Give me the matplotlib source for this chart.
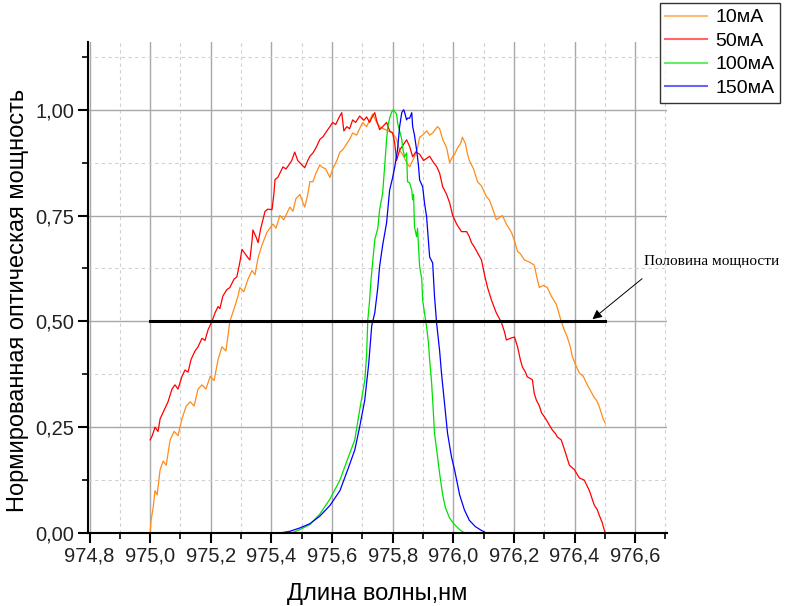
import matplotlib
matplotlib.use("Agg")
import matplotlib.pyplot as plt
from matplotlib.ticker import MultipleLocator, FuncFormatter

plt.rcParams['font.family'] = ['Liberation Sans', 'DejaVu Sans']

labels = ["10мА", "50мА", "100мА", "150мА"]
colors = ["#FF8C1A", "#FF0000", "#00E000", "#0000FF"]

wl_10 = [975.000, 975.003, 975.010, 975.016, 975.023, 975.033, 975.043, 975.053, 975.066, 975.079,
         975.092, 975.105, 975.119, 975.132, 975.145, 975.158, 975.171, 975.184, 975.198, 975.211,
         975.224, 975.237, 975.250, 975.263, 975.277, 975.290, 975.296, 975.309, 975.323, 975.336,
         975.346, 975.356, 975.369, 975.385, 975.395, 975.405, 975.415, 975.428, 975.441, 975.454,
         975.461, 975.471, 975.481, 975.494, 975.504, 975.510, 975.520, 975.527, 975.537, 975.547,
         975.560, 975.566, 975.579, 975.593, 975.602, 975.616, 975.626, 975.635, 975.649, 975.658,
         975.668, 975.681, 975.691, 975.701, 975.714, 975.724, 975.734, 975.747, 975.757, 975.770,
         975.784, 975.800, 975.813, 975.823, 975.836, 975.846, 975.856, 975.866, 975.872, 975.882,
         975.889, 975.899, 975.912, 975.922, 975.932, 975.942, 975.948, 975.955, 975.965, 975.978,
         975.988, 975.998, 976.004, 976.014, 976.024, 976.030, 976.040, 976.047, 976.053, 976.067,
         976.080, 976.093, 976.109, 976.119, 976.133, 976.142, 976.152, 976.162, 976.175, 976.192,
         976.202, 976.212, 976.221, 976.235, 976.251, 976.267, 976.277, 976.284, 976.297, 976.310,
         976.323, 976.340, 976.356, 976.366, 976.376, 976.386, 976.393, 976.402, 976.416, 976.429,
         976.442, 976.455, 976.465, 976.472, 976.481, 976.488, 976.494, 976.501]
p_10 = [0.00, 0.03, 0.06, 0.10, 0.09, 0.15, 0.17, 0.16, 0.22, 0.24,
        0.23, 0.27, 0.30, 0.31, 0.30, 0.34, 0.35, 0.34, 0.37, 0.36,
        0.41, 0.44, 0.43, 0.50, 0.53, 0.56, 0.58, 0.57, 0.60, 0.62,
        0.61, 0.65, 0.68, 0.71, 0.72, 0.73, 0.72, 0.75, 0.74, 0.76,
        0.77, 0.76, 0.79, 0.80, 0.78, 0.77, 0.80, 0.83, 0.83, 0.85,
        0.87, 0.865, 0.86, 0.84, 0.86, 0.88, 0.90, 0.905, 0.92, 0.93,
        0.945, 0.94, 0.955, 0.97, 0.96, 0.975, 0.99, 0.97, 0.96, 0.955,
        0.95, 0.945, 0.93, 0.905, 0.89, 0.875, 0.865, 0.88, 0.889, 0.91,
        0.935, 0.94, 0.95, 0.94, 0.945, 0.955, 0.96, 0.955, 0.93, 0.91,
        0.875, 0.89, 0.894, 0.91, 0.92, 0.935, 0.92, 0.895, 0.88, 0.86,
        0.83, 0.82, 0.795, 0.787, 0.76, 0.74, 0.745, 0.75, 0.73, 0.71,
        0.69, 0.665, 0.66, 0.645, 0.64, 0.633, 0.60, 0.58, 0.585, 0.58,
        0.56, 0.54, 0.50, 0.48, 0.463, 0.44, 0.416, 0.40, 0.378, 0.37,
        0.35, 0.333, 0.32, 0.314, 0.30, 0.284, 0.27, 0.26]

wl_50 = [975.000, 975.007, 975.016, 975.026, 975.033, 975.046, 975.059, 975.072, 975.082, 975.092,
         975.105, 975.115, 975.125, 975.135, 975.148, 975.158, 975.171, 975.181, 975.191, 975.204,
         975.214, 975.224, 975.230, 975.240, 975.253, 975.263, 975.277, 975.286, 975.296, 975.303,
         975.313, 975.323, 975.329, 975.336, 975.339, 975.349, 975.356, 975.365, 975.379, 975.388,
         975.402, 975.408, 975.412, 975.421, 975.428, 975.438, 975.448, 975.458, 975.467, 975.477,
         975.487, 975.500, 975.510, 975.520, 975.527, 975.537, 975.547, 975.560, 975.570, 975.583,
         975.593, 975.602, 975.612, 975.622, 975.632, 975.639, 975.649, 975.658, 975.668, 975.678,
         975.691, 975.705, 975.714, 975.724, 975.734, 975.741, 975.747, 975.757, 975.767, 975.780,
         975.790, 975.800, 975.807, 975.813, 975.823, 975.833, 975.846, 975.856, 975.866, 975.876,
         975.889, 975.902, 975.912, 975.922, 975.935, 975.945, 975.955, 975.965, 975.978, 975.988,
         975.998, 976.011, 976.027, 976.044, 976.053, 976.060, 976.070, 976.080, 976.093, 976.103,
         976.113, 976.126, 976.142, 976.159, 976.169, 976.175, 976.188, 976.202, 976.212, 976.221,
         976.228, 976.238, 976.244, 976.261, 976.267, 976.274, 976.284, 976.291, 976.300, 976.307,
         976.317, 976.327, 976.337, 976.343, 976.356, 976.370, 976.383, 976.399, 976.416, 976.432,
         976.449, 976.465, 976.475, 976.481, 976.491, 976.501]
p_50 = [0.22, 0.23, 0.25, 0.24, 0.27, 0.29, 0.31, 0.34, 0.35, 0.34,
        0.37, 0.385, 0.38, 0.41, 0.43, 0.44, 0.46, 0.455, 0.48, 0.50,
        0.52, 0.535, 0.53, 0.56, 0.575, 0.58, 0.60, 0.605, 0.64, 0.67,
        0.66, 0.65, 0.645, 0.69, 0.716, 0.70, 0.686, 0.72, 0.76, 0.765,
        0.764, 0.80, 0.835, 0.84, 0.85, 0.865, 0.86, 0.87, 0.88, 0.90,
        0.88, 0.87, 0.863, 0.88, 0.89, 0.898, 0.91, 0.93, 0.936, 0.95,
        0.96, 0.97, 0.965, 0.98, 0.993, 0.95, 0.96, 0.955, 0.976, 0.97,
        0.985, 0.975, 0.983, 0.97, 0.985, 0.993, 0.975, 0.953, 0.96, 0.97,
        0.95, 0.945, 0.92, 0.88, 0.905, 0.915, 0.929, 0.913, 0.889, 0.90,
        0.895, 0.88, 0.885, 0.89, 0.875, 0.866, 0.85, 0.818, 0.80, 0.78,
        0.75, 0.73, 0.712, 0.712, 0.70, 0.686, 0.675, 0.662, 0.645, 0.61,
        0.58, 0.55, 0.52, 0.497, 0.475, 0.456, 0.46, 0.463, 0.44, 0.41,
        0.392, 0.38, 0.369, 0.362, 0.33, 0.314, 0.30, 0.284, 0.275, 0.267,
        0.255, 0.243, 0.235, 0.227, 0.22, 0.19, 0.16, 0.15, 0.13, 0.125,
        0.10, 0.066, 0.055, 0.043, 0.025, 0.00]

wl_100 = [975.467, 975.494, 975.527, 975.560, 975.593, 975.626, 975.649, 975.675, 975.691, 975.708,
          975.714, 975.718, 975.724, 975.728, 975.741, 975.751, 975.757, 975.767, 975.774, 975.780,
          975.784, 975.790, 975.797, 975.803, 975.807, 975.813, 975.816, 975.823, 975.830, 975.833,
          975.839, 975.846, 975.849, 975.856, 975.863, 975.866, 975.869, 975.872, 975.879, 975.882,
          975.889, 975.896, 975.899, 975.905, 975.912, 975.918, 975.922, 975.928, 975.932, 975.938,
          975.948, 975.955, 975.965, 975.974, 975.988, 976.004, 976.021, 976.037]
p_100 = [0.00, 0.008, 0.02, 0.045, 0.08, 0.125, 0.17, 0.22, 0.29, 0.36,
         0.42, 0.503, 0.55, 0.593, 0.693, 0.72, 0.764, 0.803, 0.87, 0.93,
         0.96, 0.98, 0.995, 1.00, 0.995, 0.99, 0.97, 0.95, 0.93, 0.91,
         0.889, 0.898, 0.83, 0.827, 0.81, 0.787, 0.80, 0.723, 0.70, 0.72,
         0.629, 0.60, 0.55, 0.52, 0.487, 0.45, 0.409, 0.36, 0.314, 0.236,
         0.18, 0.14, 0.09, 0.06, 0.035, 0.02, 0.008, 0.00]

wl_150 = [975.428, 975.461, 975.494, 975.527, 975.560, 975.593, 975.626, 975.652, 975.675, 975.691,
          975.708, 975.721, 975.731, 975.741, 975.751, 975.757, 975.767, 975.780, 975.790, 975.800,
          975.807, 975.816, 975.823, 975.830, 975.836, 975.839, 975.846, 975.849, 975.856, 975.863,
          975.866, 975.872, 975.879, 975.885, 975.889, 975.899, 975.905, 975.912, 975.922, 975.932,
          975.938, 975.945, 975.955, 975.961, 975.971, 975.981, 975.994, 976.004, 976.021, 976.037,
          976.053, 976.073, 976.093, 976.109]
p_150 = [0.00, 0.004, 0.012, 0.022, 0.04, 0.065, 0.10, 0.15, 0.196, 0.25,
         0.314, 0.40, 0.49, 0.52, 0.58, 0.63, 0.68, 0.733, 0.81, 0.84,
         0.865, 0.905, 0.96, 0.993, 1.00, 0.995, 0.976, 0.98, 0.98, 0.993,
         0.96, 0.94, 0.905, 0.87, 0.834, 0.818, 0.78, 0.747, 0.652, 0.638,
         0.56, 0.496, 0.43, 0.378, 0.307, 0.236, 0.18, 0.15, 0.09, 0.054,
         0.03, 0.015, 0.006, 0.00]

half_x = [975.0, 976.5]
half_y = [0.5, 0.5]
half_label = "Половина мощности"

xlabel = "Длина волны,нм"
ylabel = "Нормированная оптическая мощность"

fig = plt.figure(figsize=(7.85, 6.06), dpi=100)
ax = fig.add_axes([88/785, 1-533/606, (667-88)/785, (533-42)/606])

series = [(wl_10, p_10), (wl_50, p_50), (wl_100, p_100), (wl_150, p_150)]
for (x, y), lab, c in zip(series, labels, colors):
    ax.plot(x, y, color=c, lw=0.9, label=lab)

ax.plot(half_x, half_y, color='black', lw=2.2)

ax.set_xlim(974.795, 976.705)
ax.set_ylim(0, 1.16)

ax.xaxis.set_major_locator(MultipleLocator(0.2))
ax.xaxis.set_minor_locator(MultipleLocator(0.1))
ax.yaxis.set_major_locator(MultipleLocator(0.25))
ax.yaxis.set_minor_locator(MultipleLocator(0.125))
ax.xaxis.set_major_formatter(FuncFormatter(lambda v, p: f"{v:.1f}".replace('.', ',')))
ax.yaxis.set_major_formatter(FuncFormatter(lambda v, p: f"{v:.2f}".replace('.', ',')))

ax.grid(which='major', color='#A8A8A8', lw=1.0, ls='-')
ax.grid(which='minor', color='#D0D0D0', lw=0.8, ls=(0, (3, 3)))
ax.set_axisbelow(True)

for s in ['top', 'right']:
    ax.spines[s].set_visible(False)
for s in ['left', 'bottom']:
    ax.spines[s].set_linewidth(1.5)
    ax.spines[s].set_color('black')

ax.tick_params(which='major', direction='out', length=7, width=1.5, labelsize=14.5, pad=3,
               labelcolor='#222222')
ax.tick_params(which='minor', direction='out', length=4, width=1.2)

ax.set_xlabel(xlabel, fontsize=17, labelpad=12)
ax.set_ylabel(ylabel, fontsize=17)
ax.yaxis.set_label_coords(-0.102, 0.474)

ax.annotate('', xy=(976.452, 0.501), xytext=(976.63, 0.605),
            arrowprops=dict(arrowstyle='-|>', color='black', lw=0.7,
                            mutation_scale=14), annotation_clip=False)
ax.text(976.63, 0.641, half_label, fontsize=11, family=['Liberation Serif', 'DejaVu Serif'],
        ha='left', va='center', clip_on=False)

leg = fig.legend(loc='upper right', bbox_to_anchor=(780/785, 1-3/606), fontsize=14,
                 frameon=True, fancybox=False, edgecolor='black', borderaxespad=0,
                 handlelength=2.15, handletextpad=0.4, labelspacing=0.3, borderpad=0.3)
leg.get_frame().set_linewidth(1.0)
for h in leg.get_lines():
    h.set_linewidth(1.5)
    h.set_alpha(0.6)

fig.savefig("out.png", dpi=100)
